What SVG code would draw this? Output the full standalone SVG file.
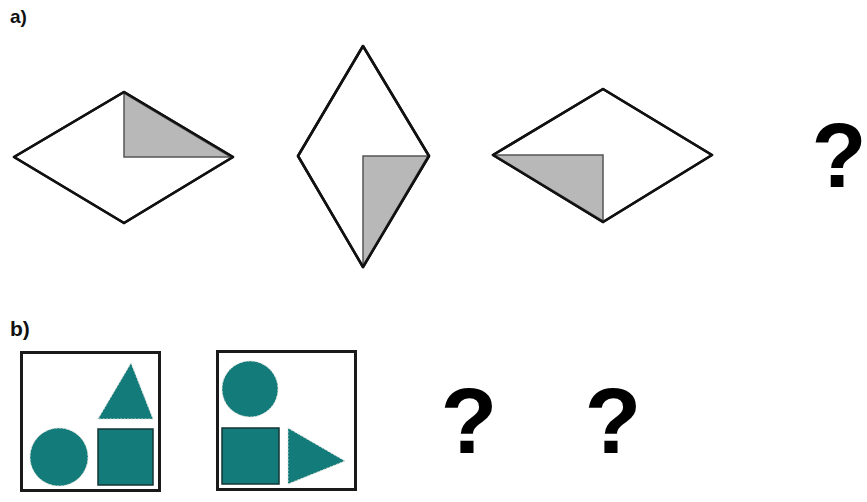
<svg xmlns="http://www.w3.org/2000/svg" width="867" height="502" viewBox="0 0 867 502">
<style>
.lbl{font-family:"Liberation Sans",Arial,sans-serif;font-weight:bold;fill:#111}
.q{font-family:"Liberation Sans",Arial,sans-serif;font-weight:bold;fill:#000;text-anchor:middle}
.dia{fill:#fff;stroke:#111;stroke-width:2.5;stroke-linejoin:round}
.sh{fill:#b8b8b8;stroke:#555;stroke-width:1.5}
.box{fill:#fff;stroke:#1a1a1a;stroke-width:3}
.tealD{fill:#137b7a;stroke:#d8e0d8;stroke-width:1;stroke-dasharray:2 1.5}
.tealS{fill:#137b7a;stroke:#143434;stroke-width:1.5}
</style>
<rect width="867" height="502" fill="#fff"/>
<text class="lbl" x="10" y="23" font-size="19">a)</text>
<text class="lbl" x="10" y="336" font-size="21">b)</text>
<g id="diamond1">
<polygon class="dia" points="14,157 124,92 233,157 124,223"/>
<polygon class="sh" points="124,93 124,157 231,157"/>
<polygon points="14,157 124,92 233,157 124,223" fill="none" stroke="#111" stroke-width="2.5" stroke-linejoin="round"/>
</g>
<g id="diamond2">
<polygon class="dia" points="363,46 429,156 363,267 298,156"/>
<polygon class="sh" points="363,156 428,156 363,266"/>
<polygon points="363,46 429,156 363,267 298,156" fill="none" stroke="#111" stroke-width="2.5" stroke-linejoin="round"/>
</g>
<g id="diamond3">
<polygon class="dia" points="493,155 603,89 712,155 603,222"/>
<polygon class="sh" points="494,155 603,155 603,221"/>
<polygon points="493,155 603,89 712,155 603,222" fill="none" stroke="#111" stroke-width="2.5" stroke-linejoin="round"/>
</g>
<g id="q1"><text class="q" x="839" y="187" font-size="90">?</text></g>
<g id="box1">
<rect class="box" x="21.5" y="352.5" width="138" height="138"/>
<polygon class="tealD" points="131,363 153,419 98,419"/>
<rect class="tealS" x="98" y="429" width="55" height="56"/>
<circle class="tealD" cx="59" cy="457" r="29"/>
</g>
<g id="box2">
<rect class="box" x="217.5" y="351.5" width="138" height="138"/>
<circle class="tealD" cx="250" cy="389" r="28"/>
<rect class="tealS" x="222" y="428" width="57" height="56"/>
<polygon class="tealD" points="288,428 345,461 288,484"/>
</g>
<g id="q2"><text class="q" x="469" y="453" font-size="93">?</text></g>
<g id="q3"><text class="q" x="613" y="453" font-size="93">?</text></g>
<g id="connectors"></g>
</svg>
